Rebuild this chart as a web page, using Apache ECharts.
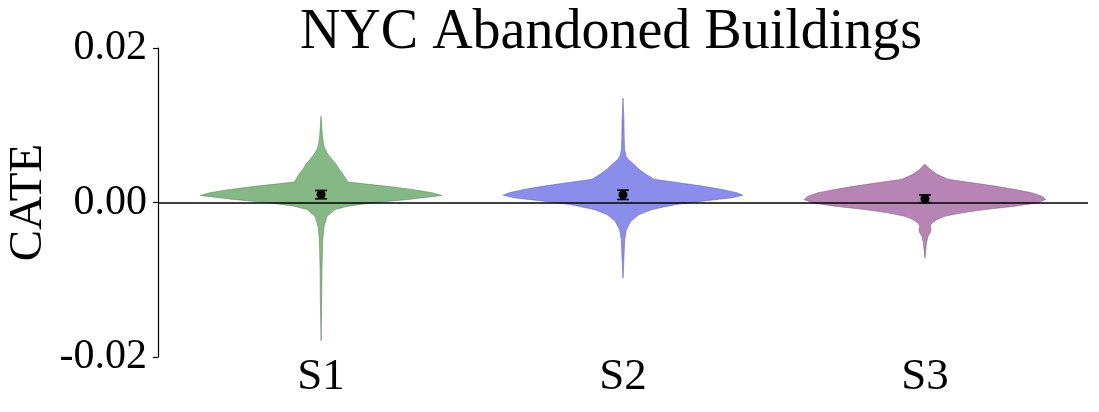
<!DOCTYPE html>
<html>
<head>
<meta charset="utf-8">
<script src="https://cdn.jsdelivr.net/npm/echarts@6/dist/echarts.min.js"></script>
<style>html,body{margin:0;padding:0;background:#fff}#c{width:1099px;height:412px}</style>
</head>
<body>
<div id="c"></div>
<script>
const categories = ['S1', 'S2', 'S3'];
const yTicks = [-0.02, 0, 0.02];

// violin profiles: CATE value and half-width (in category units)
const s1Y = [0.01116, 0.01015, 0.00885, 0.00755, 0.0069, 0.00625, 0.0056, 0.00495, 0.0043, 0.00365, 0.003, 0.00264, 0.00212, 0.00169, 0.00126, 0.00091, 0.00039, -0.00004, -0.00048, -0.00091, -0.00178, -0.00309, -0.00482, -0.0083, -0.0126, -0.0179];
const s1W = [0, 0.002, 0.004, 0.008, 0.013, 0.023, 0.036, 0.050, 0.060, 0.073, 0.083, 0.089, 0.212, 0.301, 0.368, 0.400, 0.288, 0.169, 0.089, 0.046, 0.020, 0.010, 0.0056, 0.0033, 0.0023, 0];

const s2Y = [0.0135, 0.01074, 0.0082, 0.0069, 0.006, 0.0056, 0.00495, 0.0043, 0.00365, 0.003, 0.00256, 0.00212, 0.00169, 0.00126, 0.00095, 0.00061, 0.00017, -0.00026, -0.00091, -0.00156, -0.00243, -0.00352, -0.00482, -0.007, -0.0098];
const s2W = [0, 0.003, 0.004, 0.005, 0.010, 0.017, 0.036, 0.053, 0.076, 0.103, 0.185, 0.262, 0.328, 0.377, 0.397, 0.361, 0.262, 0.175, 0.096, 0.053, 0.026, 0.011, 0.0056, 0.0033, 0];

const s3Y = [0.00495, 0.0043, 0.00365, 0.003, 0.00256, 0.00212, 0.00169, 0.00126, 0.00082, 0.00039, -0.00004, -0.00048, -0.00091, -0.00134, -0.00178, -0.00221, -0.00264, -0.00308, -0.00351, -0.00395, -0.00438, -0.00525, -0.0072];
const s3W = [0, 0.017, 0.040, 0.076, 0.156, 0.232, 0.298, 0.354, 0.387, 0.400, 0.374, 0.298, 0.199, 0.123, 0.066, 0.040, 0.023, 0.017, 0.020, 0.017, 0.010, 0.005, 0];

const means = [0.00104, 0.00100, 0.00048];
const errLo = [0.00048, 0.00039, -0.00002];
const errHi = [0.00156, 0.00160, 0.00098];

const profiles = [[s1Y, s1W], [s2Y, s2W], [s3Y, s3W]];
const fills = ['#86b886', '#8a8eea', '#b685b6'];
const edges = ['#5f8a5f', '#6468b8', '#8a5f8a'];
const FONT = '"Liberation Serif", serif';

const chart = echarts.init(document.getElementById('c'));
chart.setOption({
  animation: false,
  title: {
    text: 'NYC Abandoned Buildings',
    left: 606, textAlign: 'center', top: 0,
    textStyle: { fontFamily: FONT, fontSize: 56, fontWeight: 'normal', color: '#000' }
  },
  grid: { left: 158, right: 11, top: 48, bottom: 55, outerBoundsMode: 'none', containLabel: false },
  xAxis: {
    type: 'value', min: -0.54, max: 2.54,
    axisLine: { show: false }, axisTick: { show: false }, splitLine: { show: false },
    axisLabel: {
      customValues: [0, 1, 2],
      formatter: v => categories[Math.round(v)],
      fontFamily: FONT, fontSize: 45, color: '#000', margin: -2
    }
  },
  yAxis: {
    type: 'value', min: yTicks[0], max: yTicks[2], interval: 0.02,
    name: 'CATE', nameLocation: 'middle', nameGap: 106, nameRotate: 90,
    nameMoveOverlap: false,
    nameTextStyle: { fontFamily: FONT, fontSize: 47, color: '#000' },
    axisLine: { show: true, onZero: false, lineStyle: { color: '#000', width: 1.2 } },
    axisTick: { show: true, length: 5, lineStyle: { color: '#000', width: 1.2 } },
    splitLine: { show: false },
    axisLabel: {
      formatter: v => v.toFixed(2),
      fontFamily: FONT, fontSize: 42, color: '#000', margin: 11
    }
  },
  series: [
    {
      type: 'custom', z: 2,
      data: categories.map((c, i) => [i, 0]),
      encode: { x: 0, y: 1 },
      renderItem: (params, api) => {
        const i = params.dataIndex;
        const [ys, ws] = profiles[i];
        const pts = [];
        for (let k = 0; k < ys.length; k++) pts.push(api.coord([i + ws[k], ys[k]]));
        for (let k = ys.length - 1; k >= 0; k--) pts.push(api.coord([i - ws[k], ys[k]]));
        return {
          type: 'polygon',
          shape: { points: pts },
          style: { fill: fills[i], stroke: edges[i], lineWidth: 0.6 }
        };
      }
    },
    {
      type: 'line', data: [], z: 3,
      markLine: {
        silent: true, symbol: 'none', label: { show: false },
        lineStyle: { color: '#000', width: 1.5, type: 'solid' },
        data: [{ yAxis: 0 }]
      }
    },
    {
      type: 'custom', z: 5,
      data: categories.map((c, i) => [i, means[i], errLo[i], errHi[i]]),
      encode: { x: 0, y: 1 },
      renderItem: (params, api) => {
        const i = api.value(0);
        const m = api.coord([i, api.value(1)]);
        const lo = api.coord([i, api.value(2)]);
        const hi = api.coord([i, api.value(3)]);
        const cw = 6;
        const ls = { stroke: '#000', lineWidth: 1.6 };
        return {
          type: 'group',
          children: [
            { type: 'line', shape: { x1: lo[0], y1: lo[1], x2: hi[0], y2: hi[1] }, style: ls },
            { type: 'line', shape: { x1: lo[0] - cw, y1: lo[1], x2: lo[0] + cw, y2: lo[1] }, style: ls },
            { type: 'line', shape: { x1: hi[0] - cw, y1: hi[1], x2: hi[0] + cw, y2: hi[1] }, style: ls },
            { type: 'circle', shape: { cx: m[0], cy: m[1], r: 4.5 }, style: { fill: '#000' } }
          ]
        };
      }
    }
  ]
});
</script>
</body>
</html>
